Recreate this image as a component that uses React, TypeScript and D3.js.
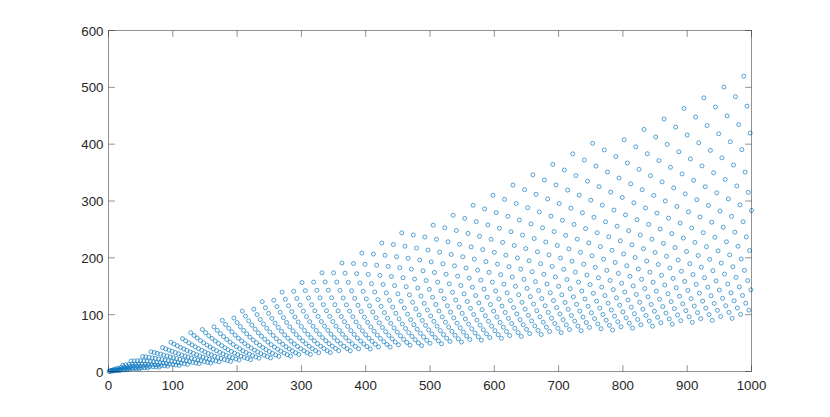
import React, { useEffect, useRef } from 'react';
import * as d3 from 'd3';

// axis ticks as shown on the figure
const xTicks = [0, 100, 200, 300, 400, 500, 600, 700, 800, 900, 1000];
const yTicks = [0, 100, 200, 300, 400, 500, 600];

// The scatter holds one point per integer x (1..1000). Too many to read one by one,
// so the lattice was measured off the picture instead: y/x runs in a sawtooth
// between ~0.093 and ~0.535, advancing 0.3872 of a cycle per step in x.
const xIndex = d3.range(1, 1001);
const cycleStep = 0.3872;
const cyclePhase = 0.4364;
const lowRatio = 0.093;
const ratioGrowth = 1.75;

const yValues = xIndex.map((n) => {
  const u = (((cycleStep * n + cyclePhase) % 1) + 1) % 1;
  return n * lowRatio * Math.exp(ratioGrowth * u);
});

const W = 830;
const H = 417;
const margin = { top: 30.5, right: 78.5, bottom: 45.5, left: 108.5 };

export default function App() {
  const ref = useRef<SVGSVGElement | null>(null);

  useEffect(() => {
    const svg = d3.select(ref.current);
    svg.selectAll('*').remove();

    const x = d3.scaleLinear().domain([0, 1000]).range([margin.left, W - margin.right]);
    const y = d3.scaleLinear().domain([0, 600]).range([H - margin.bottom, margin.top]);

    const x0 = x(0), x1 = x(1000), y0 = y(0), y1 = y(600);
    const tick = 6.4;
    const axisColor = '#262626';

    // points first, the box sits on top
    svg.append('g')
      .selectAll('circle')
      .data(xIndex)
      .enter()
      .append('circle')
      .attr('cx', (d) => x(d))
      .attr('cy', (d, i) => y(yValues[i]))
      .attr('r', 2.0)
      .attr('fill', 'none')
      .attr('stroke', '#0072BD')
      .attr('stroke-width', 0.65);

    const box = svg.append('g').attr('stroke', axisColor).attr('stroke-width', 0.5).attr('fill', 'none');
    box.append('rect').attr('x', x0).attr('y', y1).attr('width', x1 - x0).attr('height', y0 - y1);

    xTicks.forEach((t) => {
      box.append('line').attr('x1', x(t)).attr('x2', x(t)).attr('y1', y0).attr('y2', y0 - tick);
      box.append('line').attr('x1', x(t)).attr('x2', x(t)).attr('y1', y1).attr('y2', y1 + tick);
    });
    yTicks.forEach((t) => {
      box.append('line').attr('x1', x0).attr('x2', x0 + tick).attr('y1', y(t)).attr('y2', y(t));
      box.append('line').attr('x1', x1).attr('x2', x1 - tick).attr('y1', y(t)).attr('y2', y(t));
    });

    const labels = svg.append('g')
      .style('font-family', '"Liberation Sans", Arial, Helvetica, sans-serif')
      .style('font-size', '13.3px')
      .attr('fill', axisColor);

    labels.selectAll('.xl')
      .data(xTicks)
      .enter()
      .append('text')
      .attr('x', (d) => x(d))
      .attr('y', y0 + 18)
      .attr('text-anchor', 'middle')
      .text((d) => d);

    labels.selectAll('.yl')
      .data(yTicks)
      .enter()
      .append('text')
      .attr('x', x0 - 5)
      .attr('y', (d) => y(d) + 5)
      .attr('text-anchor', 'end')
      .text((d) => d);
  }, []);

  return (
    <svg
      ref={ref}
      width={W}
      height={H}
      style={{ position: 'absolute', left: 0, top: 0, background: '#fff' }}
    />
  );
}
